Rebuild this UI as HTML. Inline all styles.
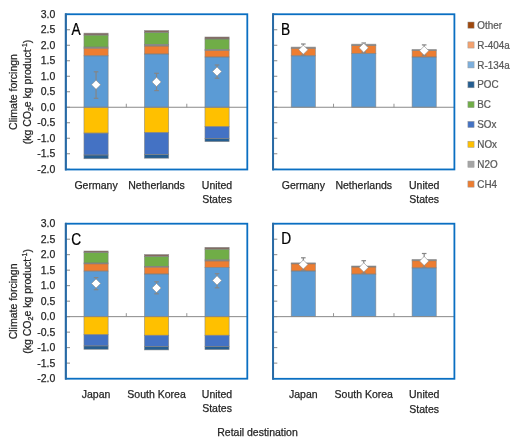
<!DOCTYPE html>
<html><head><meta charset="utf-8"><style>
html,body{margin:0;padding:0;background:#fff;}
body{width:520px;height:445px;overflow:hidden;position:relative;font-family:"Liberation Sans", sans-serif;}
svg text{font-family:"Liberation Sans", sans-serif;stroke-width:0.25px;}
</style></head><body>
<svg width="520" height="445" viewBox="0 0 520 445" style="position:absolute;left:0;top:0;will-change:transform">
<rect width="520" height="445" fill="#fff"/>
<line x1="65.8" y1="14.25" x2="70.00" y2="14.25" stroke="#7a7a7a" stroke-width="0.9"/>
<line x1="65.8" y1="29.75" x2="70.00" y2="29.75" stroke="#7a7a7a" stroke-width="0.9"/>
<line x1="65.8" y1="45.25" x2="70.00" y2="45.25" stroke="#7a7a7a" stroke-width="0.9"/>
<line x1="65.8" y1="60.75" x2="70.00" y2="60.75" stroke="#7a7a7a" stroke-width="0.9"/>
<line x1="65.8" y1="76.25" x2="70.00" y2="76.25" stroke="#7a7a7a" stroke-width="0.9"/>
<line x1="65.8" y1="91.75" x2="70.00" y2="91.75" stroke="#7a7a7a" stroke-width="0.9"/>
<line x1="65.8" y1="107.25" x2="70.00" y2="107.25" stroke="#7a7a7a" stroke-width="0.9"/>
<line x1="65.8" y1="122.75" x2="70.00" y2="122.75" stroke="#7a7a7a" stroke-width="0.9"/>
<line x1="65.8" y1="138.25" x2="70.00" y2="138.25" stroke="#7a7a7a" stroke-width="0.9"/>
<line x1="65.8" y1="153.75" x2="70.00" y2="153.75" stroke="#7a7a7a" stroke-width="0.9"/>
<line x1="65.8" y1="169.25" x2="70.00" y2="169.25" stroke="#7a7a7a" stroke-width="0.9"/>
<rect x="83.95" y="33.20" width="24.20" height="1.90" fill="#85695E"/>
<rect x="83.95" y="35.10" width="24.20" height="12.00" fill="#70AD47"/>
<rect x="83.95" y="47.10" width="24.20" height="1.10" fill="#8E8E8E"/>
<rect x="83.95" y="48.20" width="24.20" height="7.60" fill="#ED7D31"/>
<rect x="83.95" y="55.80" width="24.20" height="51.45" fill="#5B9BD5"/>
<rect x="83.95" y="107.25" width="24.20" height="25.85" fill="#FFC000"/>
<rect x="83.95" y="133.10" width="24.20" height="21.90" fill="#4472C4"/>
<rect x="83.95" y="155.00" width="24.20" height="3.70" fill="#255E91"/>
<rect x="83.95" y="33.20" width="24.20" height="1.90" fill="none" stroke="#7f7f7f" stroke-opacity="0.7" stroke-width="0.75"/>
<rect x="83.95" y="35.10" width="24.20" height="12.00" fill="none" stroke="#7f7f7f" stroke-opacity="0.7" stroke-width="0.75"/>
<rect x="83.95" y="47.10" width="24.20" height="1.10" fill="none" stroke="#7f7f7f" stroke-opacity="0.7" stroke-width="0.75"/>
<rect x="83.95" y="48.20" width="24.20" height="7.60" fill="none" stroke="#7f7f7f" stroke-opacity="0.7" stroke-width="0.75"/>
<rect x="83.95" y="55.80" width="24.20" height="51.45" fill="none" stroke="#7f7f7f" stroke-opacity="0.7" stroke-width="0.75"/>
<rect x="83.95" y="107.25" width="24.20" height="25.85" fill="none" stroke="#7f7f7f" stroke-opacity="0.7" stroke-width="0.75"/>
<rect x="83.95" y="133.10" width="24.20" height="21.90" fill="none" stroke="#7f7f7f" stroke-opacity="0.7" stroke-width="0.75"/>
<rect x="83.95" y="155.00" width="24.20" height="3.70" fill="none" stroke="#7f7f7f" stroke-opacity="0.7" stroke-width="0.75"/>
<rect x="144.45" y="30.60" width="24.20" height="1.90" fill="#85695E"/>
<rect x="144.45" y="32.50" width="24.20" height="12.00" fill="#70AD47"/>
<rect x="144.45" y="44.50" width="24.20" height="1.50" fill="#8E8E8E"/>
<rect x="144.45" y="46.00" width="24.20" height="8.00" fill="#ED7D31"/>
<rect x="144.45" y="54.00" width="24.20" height="53.25" fill="#5B9BD5"/>
<rect x="144.45" y="107.25" width="24.20" height="25.35" fill="#FFC000"/>
<rect x="144.45" y="132.60" width="24.20" height="21.90" fill="#4472C4"/>
<rect x="144.45" y="154.50" width="24.20" height="3.70" fill="#255E91"/>
<rect x="144.45" y="30.60" width="24.20" height="1.90" fill="none" stroke="#7f7f7f" stroke-opacity="0.7" stroke-width="0.75"/>
<rect x="144.45" y="32.50" width="24.20" height="12.00" fill="none" stroke="#7f7f7f" stroke-opacity="0.7" stroke-width="0.75"/>
<rect x="144.45" y="44.50" width="24.20" height="1.50" fill="none" stroke="#7f7f7f" stroke-opacity="0.7" stroke-width="0.75"/>
<rect x="144.45" y="46.00" width="24.20" height="8.00" fill="none" stroke="#7f7f7f" stroke-opacity="0.7" stroke-width="0.75"/>
<rect x="144.45" y="54.00" width="24.20" height="53.25" fill="none" stroke="#7f7f7f" stroke-opacity="0.7" stroke-width="0.75"/>
<rect x="144.45" y="107.25" width="24.20" height="25.35" fill="none" stroke="#7f7f7f" stroke-opacity="0.7" stroke-width="0.75"/>
<rect x="144.45" y="132.60" width="24.20" height="21.90" fill="none" stroke="#7f7f7f" stroke-opacity="0.7" stroke-width="0.75"/>
<rect x="144.45" y="154.50" width="24.20" height="3.70" fill="none" stroke="#7f7f7f" stroke-opacity="0.7" stroke-width="0.75"/>
<rect x="204.95" y="37.00" width="24.20" height="2.00" fill="#85695E"/>
<rect x="204.95" y="39.00" width="24.20" height="10.60" fill="#70AD47"/>
<rect x="204.95" y="49.60" width="24.20" height="0.80" fill="#8E8E8E"/>
<rect x="204.95" y="50.40" width="24.20" height="6.60" fill="#ED7D31"/>
<rect x="204.95" y="57.00" width="24.20" height="50.25" fill="#5B9BD5"/>
<rect x="204.95" y="107.25" width="24.20" height="19.45" fill="#FFC000"/>
<rect x="204.95" y="126.70" width="24.20" height="11.70" fill="#4472C4"/>
<rect x="204.95" y="138.40" width="24.20" height="3.20" fill="#255E91"/>
<rect x="204.95" y="37.00" width="24.20" height="2.00" fill="none" stroke="#7f7f7f" stroke-opacity="0.7" stroke-width="0.75"/>
<rect x="204.95" y="39.00" width="24.20" height="10.60" fill="none" stroke="#7f7f7f" stroke-opacity="0.7" stroke-width="0.75"/>
<rect x="204.95" y="49.60" width="24.20" height="0.80" fill="none" stroke="#7f7f7f" stroke-opacity="0.7" stroke-width="0.75"/>
<rect x="204.95" y="50.40" width="24.20" height="6.60" fill="none" stroke="#7f7f7f" stroke-opacity="0.7" stroke-width="0.75"/>
<rect x="204.95" y="57.00" width="24.20" height="50.25" fill="none" stroke="#7f7f7f" stroke-opacity="0.7" stroke-width="0.75"/>
<rect x="204.95" y="107.25" width="24.20" height="19.45" fill="none" stroke="#7f7f7f" stroke-opacity="0.7" stroke-width="0.75"/>
<rect x="204.95" y="126.70" width="24.20" height="11.70" fill="none" stroke="#7f7f7f" stroke-opacity="0.7" stroke-width="0.75"/>
<rect x="204.95" y="138.40" width="24.20" height="3.20" fill="none" stroke="#7f7f7f" stroke-opacity="0.7" stroke-width="0.75"/>
<line x1="65.8" y1="107.25" x2="247.3" y2="107.25" stroke="#898989" stroke-width="1"/>
<line x1="126.30" y1="103.75" x2="126.30" y2="107.25" stroke="#898989" stroke-width="0.9"/>
<line x1="186.80" y1="103.75" x2="186.80" y2="107.25" stroke="#898989" stroke-width="0.9"/>
<line x1="96.05" y1="71.8" x2="96.05" y2="98.3" stroke="#858585" stroke-width="1.2"/>
<line x1="93.75" y1="71.8" x2="98.35" y2="71.8" stroke="#858585" stroke-width="1.2"/>
<line x1="93.75" y1="98.3" x2="98.35" y2="98.3" stroke="#858585" stroke-width="1.2"/>
<path d="M96.05 80.15 L100.65 84.75 L96.05 89.35 L91.45 84.75 Z" fill="#fff" stroke="#8a8a8a" stroke-width="0.6"/>
<line x1="156.55" y1="73.3" x2="156.55" y2="90.6" stroke="#858585" stroke-width="1.2"/>
<line x1="154.25" y1="73.3" x2="158.85" y2="73.3" stroke="#858585" stroke-width="1.2"/>
<line x1="154.25" y1="90.6" x2="158.85" y2="90.6" stroke="#858585" stroke-width="1.2"/>
<path d="M156.55 77.30 L161.15 81.90 L156.55 86.50 L151.95 81.90 Z" fill="#fff" stroke="#8a8a8a" stroke-width="0.6"/>
<line x1="217.05" y1="65.0" x2="217.05" y2="78.2" stroke="#858585" stroke-width="1.2"/>
<line x1="214.75" y1="65.0" x2="219.35" y2="65.0" stroke="#858585" stroke-width="1.2"/>
<line x1="214.75" y1="78.2" x2="219.35" y2="78.2" stroke="#858585" stroke-width="1.2"/>
<path d="M217.05 66.90 L221.65 71.50 L217.05 76.10 L212.45 71.50 Z" fill="#fff" stroke="#8a8a8a" stroke-width="0.6"/>
<rect x="65.8" y="14.25" width="181.50" height="155.25" fill="none" stroke="#0A6FC2" stroke-width="1.8"/>
<line x1="65.8" y1="13.35" x2="65.8" y2="170.40" stroke="#2A69A2" stroke-width="1.9"/>
<text x="55.3" y="17.95" text-anchor="end" font-size="10.5" fill="#262626" stroke="#262626">3.0</text>
<text x="55.3" y="33.45" text-anchor="end" font-size="10.5" fill="#262626" stroke="#262626">2.5</text>
<text x="55.3" y="48.95" text-anchor="end" font-size="10.5" fill="#262626" stroke="#262626">2.0</text>
<text x="55.3" y="64.45" text-anchor="end" font-size="10.5" fill="#262626" stroke="#262626">1.5</text>
<text x="55.3" y="79.95" text-anchor="end" font-size="10.5" fill="#262626" stroke="#262626">1.0</text>
<text x="55.3" y="95.45" text-anchor="end" font-size="10.5" fill="#262626" stroke="#262626">0.5</text>
<text x="55.3" y="110.95" text-anchor="end" font-size="10.5" fill="#262626" stroke="#262626">0.0</text>
<text x="55.3" y="126.45" text-anchor="end" font-size="10.5" fill="#262626" stroke="#262626">-0.5</text>
<text x="55.3" y="141.95" text-anchor="end" font-size="10.5" fill="#262626" stroke="#262626">-1.0</text>
<text x="55.3" y="157.45" text-anchor="end" font-size="10.5" fill="#262626" stroke="#262626">-1.5</text>
<text x="55.3" y="172.95" text-anchor="end" font-size="10.5" fill="#262626" stroke="#262626">-2.0</text>
<text x="96.05" y="188.75" text-anchor="middle" font-size="10.5" fill="#262626" stroke="#262626">Germany</text>
<text x="156.55" y="188.75" text-anchor="middle" font-size="10.5" fill="#262626" stroke="#262626">Netherlands</text>
<text x="217.05" y="188.75" text-anchor="middle" font-size="10.5" fill="#262626" stroke="#262626">United</text>
<text x="217.05" y="203.25" text-anchor="middle" font-size="10.5" fill="#262626" stroke="#262626">States</text>
<text transform="translate(71.6 35.0) scale(0.88 1)" font-size="15.6" fill="#000" stroke="#000">A</text>
<line x1="273.1" y1="14.25" x2="277.30" y2="14.25" stroke="#7a7a7a" stroke-width="0.9"/>
<line x1="273.1" y1="29.75" x2="277.30" y2="29.75" stroke="#7a7a7a" stroke-width="0.9"/>
<line x1="273.1" y1="45.25" x2="277.30" y2="45.25" stroke="#7a7a7a" stroke-width="0.9"/>
<line x1="273.1" y1="60.75" x2="277.30" y2="60.75" stroke="#7a7a7a" stroke-width="0.9"/>
<line x1="273.1" y1="76.25" x2="277.30" y2="76.25" stroke="#7a7a7a" stroke-width="0.9"/>
<line x1="273.1" y1="91.75" x2="277.30" y2="91.75" stroke="#7a7a7a" stroke-width="0.9"/>
<line x1="273.1" y1="107.25" x2="277.30" y2="107.25" stroke="#7a7a7a" stroke-width="0.9"/>
<line x1="273.1" y1="122.75" x2="277.30" y2="122.75" stroke="#7a7a7a" stroke-width="0.9"/>
<line x1="273.1" y1="138.25" x2="277.30" y2="138.25" stroke="#7a7a7a" stroke-width="0.9"/>
<line x1="273.1" y1="153.75" x2="277.30" y2="153.75" stroke="#7a7a7a" stroke-width="0.9"/>
<line x1="273.1" y1="169.25" x2="277.30" y2="169.25" stroke="#7a7a7a" stroke-width="0.9"/>
<rect x="291.23" y="47.10" width="24.17" height="1.20" fill="#8E8E8E"/>
<rect x="291.23" y="48.30" width="24.17" height="7.50" fill="#ED7D31"/>
<rect x="291.23" y="55.80" width="24.17" height="51.45" fill="#5B9BD5"/>
<rect x="291.23" y="47.10" width="24.17" height="1.20" fill="none" stroke="#7f7f7f" stroke-opacity="0.7" stroke-width="0.75"/>
<rect x="291.23" y="48.30" width="24.17" height="7.50" fill="none" stroke="#7f7f7f" stroke-opacity="0.7" stroke-width="0.75"/>
<rect x="291.23" y="55.80" width="24.17" height="51.45" fill="none" stroke="#7f7f7f" stroke-opacity="0.7" stroke-width="0.75"/>
<rect x="351.66" y="44.20" width="24.17" height="1.40" fill="#8E8E8E"/>
<rect x="351.66" y="45.60" width="24.17" height="8.00" fill="#ED7D31"/>
<rect x="351.66" y="53.60" width="24.17" height="53.65" fill="#5B9BD5"/>
<rect x="351.66" y="44.20" width="24.17" height="1.40" fill="none" stroke="#7f7f7f" stroke-opacity="0.7" stroke-width="0.75"/>
<rect x="351.66" y="45.60" width="24.17" height="8.00" fill="none" stroke="#7f7f7f" stroke-opacity="0.7" stroke-width="0.75"/>
<rect x="351.66" y="53.60" width="24.17" height="53.65" fill="none" stroke="#7f7f7f" stroke-opacity="0.7" stroke-width="0.75"/>
<rect x="412.10" y="49.50" width="24.17" height="1.00" fill="#8E8E8E"/>
<rect x="412.10" y="50.50" width="24.17" height="6.50" fill="#ED7D31"/>
<rect x="412.10" y="57.00" width="24.17" height="50.25" fill="#5B9BD5"/>
<rect x="412.10" y="49.50" width="24.17" height="1.00" fill="none" stroke="#7f7f7f" stroke-opacity="0.7" stroke-width="0.75"/>
<rect x="412.10" y="50.50" width="24.17" height="6.50" fill="none" stroke="#7f7f7f" stroke-opacity="0.7" stroke-width="0.75"/>
<rect x="412.10" y="57.00" width="24.17" height="50.25" fill="none" stroke="#7f7f7f" stroke-opacity="0.7" stroke-width="0.75"/>
<line x1="273.1" y1="107.25" x2="454.4" y2="107.25" stroke="#898989" stroke-width="1"/>
<line x1="333.53" y1="103.75" x2="333.53" y2="107.25" stroke="#898989" stroke-width="0.9"/>
<line x1="393.97" y1="103.75" x2="393.97" y2="107.25" stroke="#898989" stroke-width="0.9"/>
<line x1="303.32" y1="44.0" x2="303.32" y2="55.2" stroke="#858585" stroke-width="1.2"/>
<line x1="301.02" y1="44.0" x2="305.62" y2="44.0" stroke="#858585" stroke-width="1.2"/>
<line x1="301.02" y1="55.2" x2="305.62" y2="55.2" stroke="#858585" stroke-width="1.2"/>
<path d="M303.32 45.10 L307.92 49.70 L303.32 54.30 L298.72 49.70 Z" fill="#fff" stroke="#8a8a8a" stroke-width="0.6"/>
<line x1="363.75" y1="43.0" x2="363.75" y2="52.3" stroke="#858585" stroke-width="1.2"/>
<line x1="361.45" y1="43.0" x2="366.05" y2="43.0" stroke="#858585" stroke-width="1.2"/>
<line x1="361.45" y1="52.3" x2="366.05" y2="52.3" stroke="#858585" stroke-width="1.2"/>
<path d="M363.75 43.20 L368.35 47.80 L363.75 52.40 L359.15 47.80 Z" fill="#fff" stroke="#8a8a8a" stroke-width="0.6"/>
<line x1="424.18" y1="44.9" x2="424.18" y2="55.2" stroke="#858585" stroke-width="1.2"/>
<line x1="421.88" y1="44.9" x2="426.48" y2="44.9" stroke="#858585" stroke-width="1.2"/>
<line x1="421.88" y1="55.2" x2="426.48" y2="55.2" stroke="#858585" stroke-width="1.2"/>
<path d="M424.18 46.10 L428.78 50.70 L424.18 55.30 L419.58 50.70 Z" fill="#fff" stroke="#8a8a8a" stroke-width="0.6"/>
<rect x="273.1" y="14.25" width="181.30" height="155.20" fill="none" stroke="#0A6FC2" stroke-width="1.8"/>
<line x1="273.1" y1="13.35" x2="273.1" y2="170.35" stroke="#2A69A2" stroke-width="1.9"/>
<text x="303.32" y="188.70" text-anchor="middle" font-size="10.5" fill="#262626" stroke="#262626">Germany</text>
<text x="363.75" y="188.70" text-anchor="middle" font-size="10.5" fill="#262626" stroke="#262626">Netherlands</text>
<text x="424.18" y="188.70" text-anchor="middle" font-size="10.5" fill="#262626" stroke="#262626">United</text>
<text x="424.18" y="203.20" text-anchor="middle" font-size="10.5" fill="#262626" stroke="#262626">States</text>
<text transform="translate(281.1 34.8) scale(0.88 1)" font-size="15.6" fill="#000" stroke="#000">B</text>
<line x1="65.8" y1="223.70" x2="70.00" y2="223.70" stroke="#7a7a7a" stroke-width="0.9"/>
<line x1="65.8" y1="239.19" x2="70.00" y2="239.19" stroke="#7a7a7a" stroke-width="0.9"/>
<line x1="65.8" y1="254.68" x2="70.00" y2="254.68" stroke="#7a7a7a" stroke-width="0.9"/>
<line x1="65.8" y1="270.17" x2="70.00" y2="270.17" stroke="#7a7a7a" stroke-width="0.9"/>
<line x1="65.8" y1="285.67" x2="70.00" y2="285.67" stroke="#7a7a7a" stroke-width="0.9"/>
<line x1="65.8" y1="301.16" x2="70.00" y2="301.16" stroke="#7a7a7a" stroke-width="0.9"/>
<line x1="65.8" y1="316.65" x2="70.00" y2="316.65" stroke="#7a7a7a" stroke-width="0.9"/>
<line x1="65.8" y1="332.14" x2="70.00" y2="332.14" stroke="#7a7a7a" stroke-width="0.9"/>
<line x1="65.8" y1="347.63" x2="70.00" y2="347.63" stroke="#7a7a7a" stroke-width="0.9"/>
<line x1="65.8" y1="363.12" x2="70.00" y2="363.12" stroke="#7a7a7a" stroke-width="0.9"/>
<line x1="65.8" y1="378.62" x2="70.00" y2="378.62" stroke="#7a7a7a" stroke-width="0.9"/>
<rect x="83.95" y="251.00" width="24.20" height="1.60" fill="#85695E"/>
<rect x="83.95" y="252.60" width="24.20" height="10.40" fill="#70AD47"/>
<rect x="83.95" y="263.00" width="24.20" height="0.80" fill="#8E8E8E"/>
<rect x="83.95" y="263.80" width="24.20" height="7.30" fill="#ED7D31"/>
<rect x="83.95" y="271.10" width="24.20" height="45.55" fill="#5B9BD5"/>
<rect x="83.95" y="316.65" width="24.20" height="18.05" fill="#FFC000"/>
<rect x="83.95" y="334.70" width="24.20" height="11.20" fill="#4472C4"/>
<rect x="83.95" y="345.90" width="24.20" height="3.40" fill="#255E91"/>
<rect x="83.95" y="251.00" width="24.20" height="1.60" fill="none" stroke="#7f7f7f" stroke-opacity="0.7" stroke-width="0.75"/>
<rect x="83.95" y="252.60" width="24.20" height="10.40" fill="none" stroke="#7f7f7f" stroke-opacity="0.7" stroke-width="0.75"/>
<rect x="83.95" y="263.00" width="24.20" height="0.80" fill="none" stroke="#7f7f7f" stroke-opacity="0.7" stroke-width="0.75"/>
<rect x="83.95" y="263.80" width="24.20" height="7.30" fill="none" stroke="#7f7f7f" stroke-opacity="0.7" stroke-width="0.75"/>
<rect x="83.95" y="271.10" width="24.20" height="45.55" fill="none" stroke="#7f7f7f" stroke-opacity="0.7" stroke-width="0.75"/>
<rect x="83.95" y="316.65" width="24.20" height="18.05" fill="none" stroke="#7f7f7f" stroke-opacity="0.7" stroke-width="0.75"/>
<rect x="83.95" y="334.70" width="24.20" height="11.20" fill="none" stroke="#7f7f7f" stroke-opacity="0.7" stroke-width="0.75"/>
<rect x="83.95" y="345.90" width="24.20" height="3.40" fill="none" stroke="#7f7f7f" stroke-opacity="0.7" stroke-width="0.75"/>
<rect x="144.45" y="254.60" width="24.20" height="1.80" fill="#85695E"/>
<rect x="144.45" y="256.40" width="24.20" height="10.00" fill="#70AD47"/>
<rect x="144.45" y="266.40" width="24.20" height="0.70" fill="#8E8E8E"/>
<rect x="144.45" y="267.10" width="24.20" height="6.90" fill="#ED7D31"/>
<rect x="144.45" y="274.00" width="24.20" height="42.65" fill="#5B9BD5"/>
<rect x="144.45" y="316.65" width="24.20" height="18.65" fill="#FFC000"/>
<rect x="144.45" y="335.30" width="24.20" height="11.20" fill="#4472C4"/>
<rect x="144.45" y="346.50" width="24.20" height="3.40" fill="#255E91"/>
<rect x="144.45" y="254.60" width="24.20" height="1.80" fill="none" stroke="#7f7f7f" stroke-opacity="0.7" stroke-width="0.75"/>
<rect x="144.45" y="256.40" width="24.20" height="10.00" fill="none" stroke="#7f7f7f" stroke-opacity="0.7" stroke-width="0.75"/>
<rect x="144.45" y="266.40" width="24.20" height="0.70" fill="none" stroke="#7f7f7f" stroke-opacity="0.7" stroke-width="0.75"/>
<rect x="144.45" y="267.10" width="24.20" height="6.90" fill="none" stroke="#7f7f7f" stroke-opacity="0.7" stroke-width="0.75"/>
<rect x="144.45" y="274.00" width="24.20" height="42.65" fill="none" stroke="#7f7f7f" stroke-opacity="0.7" stroke-width="0.75"/>
<rect x="144.45" y="316.65" width="24.20" height="18.65" fill="none" stroke="#7f7f7f" stroke-opacity="0.7" stroke-width="0.75"/>
<rect x="144.45" y="335.30" width="24.20" height="11.20" fill="none" stroke="#7f7f7f" stroke-opacity="0.7" stroke-width="0.75"/>
<rect x="144.45" y="346.50" width="24.20" height="3.40" fill="none" stroke="#7f7f7f" stroke-opacity="0.7" stroke-width="0.75"/>
<rect x="204.95" y="247.40" width="24.20" height="1.80" fill="#85695E"/>
<rect x="204.95" y="249.20" width="24.20" height="10.70" fill="#70AD47"/>
<rect x="204.95" y="259.90" width="24.20" height="1.00" fill="#8E8E8E"/>
<rect x="204.95" y="260.90" width="24.20" height="6.50" fill="#ED7D31"/>
<rect x="204.95" y="267.40" width="24.20" height="49.25" fill="#5B9BD5"/>
<rect x="204.95" y="316.65" width="24.20" height="18.65" fill="#FFC000"/>
<rect x="204.95" y="335.30" width="24.20" height="11.10" fill="#4472C4"/>
<rect x="204.95" y="346.40" width="24.20" height="3.20" fill="#255E91"/>
<rect x="204.95" y="247.40" width="24.20" height="1.80" fill="none" stroke="#7f7f7f" stroke-opacity="0.7" stroke-width="0.75"/>
<rect x="204.95" y="249.20" width="24.20" height="10.70" fill="none" stroke="#7f7f7f" stroke-opacity="0.7" stroke-width="0.75"/>
<rect x="204.95" y="259.90" width="24.20" height="1.00" fill="none" stroke="#7f7f7f" stroke-opacity="0.7" stroke-width="0.75"/>
<rect x="204.95" y="260.90" width="24.20" height="6.50" fill="none" stroke="#7f7f7f" stroke-opacity="0.7" stroke-width="0.75"/>
<rect x="204.95" y="267.40" width="24.20" height="49.25" fill="none" stroke="#7f7f7f" stroke-opacity="0.7" stroke-width="0.75"/>
<rect x="204.95" y="316.65" width="24.20" height="18.65" fill="none" stroke="#7f7f7f" stroke-opacity="0.7" stroke-width="0.75"/>
<rect x="204.95" y="335.30" width="24.20" height="11.10" fill="none" stroke="#7f7f7f" stroke-opacity="0.7" stroke-width="0.75"/>
<rect x="204.95" y="346.40" width="24.20" height="3.20" fill="none" stroke="#7f7f7f" stroke-opacity="0.7" stroke-width="0.75"/>
<line x1="65.8" y1="316.65" x2="247.3" y2="316.65" stroke="#898989" stroke-width="1"/>
<line x1="126.30" y1="313.15" x2="126.30" y2="316.65" stroke="#898989" stroke-width="0.9"/>
<line x1="186.80" y1="313.15" x2="186.80" y2="316.65" stroke="#898989" stroke-width="0.9"/>
<line x1="96.05" y1="277.6" x2="96.05" y2="289.7" stroke="#858585" stroke-width="1.2"/>
<line x1="93.75" y1="277.6" x2="98.35" y2="277.6" stroke="#858585" stroke-width="1.2"/>
<line x1="93.75" y1="289.7" x2="98.35" y2="289.7" stroke="#858585" stroke-width="1.2"/>
<path d="M96.05 278.90 L100.65 283.50 L96.05 288.10 L91.45 283.50 Z" fill="#fff" stroke="#8a8a8a" stroke-width="0.6"/>
<line x1="156.55" y1="281.8" x2="156.55" y2="293.8" stroke="#858585" stroke-width="1.2"/>
<line x1="154.25" y1="281.8" x2="158.85" y2="281.8" stroke="#858585" stroke-width="1.2"/>
<line x1="154.25" y1="293.8" x2="158.85" y2="293.8" stroke="#858585" stroke-width="1.2"/>
<path d="M156.55 283.40 L161.15 288.00 L156.55 292.60 L151.95 288.00 Z" fill="#fff" stroke="#8a8a8a" stroke-width="0.6"/>
<line x1="217.05" y1="273.7" x2="217.05" y2="287.8" stroke="#858585" stroke-width="1.2"/>
<line x1="214.75" y1="273.7" x2="219.35" y2="273.7" stroke="#858585" stroke-width="1.2"/>
<line x1="214.75" y1="287.8" x2="219.35" y2="287.8" stroke="#858585" stroke-width="1.2"/>
<path d="M217.05 275.80 L221.65 280.40 L217.05 285.00 L212.45 280.40 Z" fill="#fff" stroke="#8a8a8a" stroke-width="0.6"/>
<rect x="65.8" y="223.7" width="181.50" height="155.00" fill="none" stroke="#0A6FC2" stroke-width="1.8"/>
<line x1="65.8" y1="222.80" x2="65.8" y2="379.60" stroke="#2A69A2" stroke-width="1.9"/>
<text x="55.3" y="227.40" text-anchor="end" font-size="10.5" fill="#262626" stroke="#262626">3.0</text>
<text x="55.3" y="242.89" text-anchor="end" font-size="10.5" fill="#262626" stroke="#262626">2.5</text>
<text x="55.3" y="258.38" text-anchor="end" font-size="10.5" fill="#262626" stroke="#262626">2.0</text>
<text x="55.3" y="273.87" text-anchor="end" font-size="10.5" fill="#262626" stroke="#262626">1.5</text>
<text x="55.3" y="289.37" text-anchor="end" font-size="10.5" fill="#262626" stroke="#262626">1.0</text>
<text x="55.3" y="304.86" text-anchor="end" font-size="10.5" fill="#262626" stroke="#262626">0.5</text>
<text x="55.3" y="320.35" text-anchor="end" font-size="10.5" fill="#262626" stroke="#262626">0.0</text>
<text x="55.3" y="335.84" text-anchor="end" font-size="10.5" fill="#262626" stroke="#262626">-0.5</text>
<text x="55.3" y="351.33" text-anchor="end" font-size="10.5" fill="#262626" stroke="#262626">-1.0</text>
<text x="55.3" y="366.82" text-anchor="end" font-size="10.5" fill="#262626" stroke="#262626">-1.5</text>
<text x="55.3" y="382.32" text-anchor="end" font-size="10.5" fill="#262626" stroke="#262626">-2.0</text>
<text x="96.05" y="397.95" text-anchor="middle" font-size="10.5" fill="#262626" stroke="#262626">Japan</text>
<text x="156.55" y="397.95" text-anchor="middle" font-size="10.5" fill="#262626" stroke="#262626">South Korea</text>
<text x="217.05" y="397.95" text-anchor="middle" font-size="10.5" fill="#262626" stroke="#262626">United</text>
<text x="217.05" y="412.45" text-anchor="middle" font-size="10.5" fill="#262626" stroke="#262626">States</text>
<text transform="translate(71.2 244.5) scale(0.88 1)" font-size="15.6" fill="#000" stroke="#000">C</text>
<line x1="273.1" y1="223.70" x2="277.30" y2="223.70" stroke="#7a7a7a" stroke-width="0.9"/>
<line x1="273.1" y1="239.19" x2="277.30" y2="239.19" stroke="#7a7a7a" stroke-width="0.9"/>
<line x1="273.1" y1="254.68" x2="277.30" y2="254.68" stroke="#7a7a7a" stroke-width="0.9"/>
<line x1="273.1" y1="270.17" x2="277.30" y2="270.17" stroke="#7a7a7a" stroke-width="0.9"/>
<line x1="273.1" y1="285.67" x2="277.30" y2="285.67" stroke="#7a7a7a" stroke-width="0.9"/>
<line x1="273.1" y1="301.16" x2="277.30" y2="301.16" stroke="#7a7a7a" stroke-width="0.9"/>
<line x1="273.1" y1="316.65" x2="277.30" y2="316.65" stroke="#7a7a7a" stroke-width="0.9"/>
<line x1="273.1" y1="332.14" x2="277.30" y2="332.14" stroke="#7a7a7a" stroke-width="0.9"/>
<line x1="273.1" y1="347.63" x2="277.30" y2="347.63" stroke="#7a7a7a" stroke-width="0.9"/>
<line x1="273.1" y1="363.12" x2="277.30" y2="363.12" stroke="#7a7a7a" stroke-width="0.9"/>
<line x1="273.1" y1="378.62" x2="277.30" y2="378.62" stroke="#7a7a7a" stroke-width="0.9"/>
<rect x="291.23" y="262.90" width="24.17" height="0.90" fill="#8E8E8E"/>
<rect x="291.23" y="263.80" width="24.17" height="7.20" fill="#ED7D31"/>
<rect x="291.23" y="271.00" width="24.17" height="45.65" fill="#5B9BD5"/>
<rect x="291.23" y="262.90" width="24.17" height="0.90" fill="none" stroke="#7f7f7f" stroke-opacity="0.7" stroke-width="0.75"/>
<rect x="291.23" y="263.80" width="24.17" height="7.20" fill="none" stroke="#7f7f7f" stroke-opacity="0.7" stroke-width="0.75"/>
<rect x="291.23" y="271.00" width="24.17" height="45.65" fill="none" stroke="#7f7f7f" stroke-opacity="0.7" stroke-width="0.75"/>
<rect x="351.66" y="266.00" width="24.17" height="1.00" fill="#8E8E8E"/>
<rect x="351.66" y="267.00" width="24.17" height="7.10" fill="#ED7D31"/>
<rect x="351.66" y="274.10" width="24.17" height="42.55" fill="#5B9BD5"/>
<rect x="351.66" y="266.00" width="24.17" height="1.00" fill="none" stroke="#7f7f7f" stroke-opacity="0.7" stroke-width="0.75"/>
<rect x="351.66" y="267.00" width="24.17" height="7.10" fill="none" stroke="#7f7f7f" stroke-opacity="0.7" stroke-width="0.75"/>
<rect x="351.66" y="274.10" width="24.17" height="42.55" fill="none" stroke="#7f7f7f" stroke-opacity="0.7" stroke-width="0.75"/>
<rect x="412.10" y="259.50" width="24.17" height="1.20" fill="#8E8E8E"/>
<rect x="412.10" y="260.70" width="24.17" height="7.20" fill="#ED7D31"/>
<rect x="412.10" y="267.90" width="24.17" height="48.75" fill="#5B9BD5"/>
<rect x="412.10" y="259.50" width="24.17" height="1.20" fill="none" stroke="#7f7f7f" stroke-opacity="0.7" stroke-width="0.75"/>
<rect x="412.10" y="260.70" width="24.17" height="7.20" fill="none" stroke="#7f7f7f" stroke-opacity="0.7" stroke-width="0.75"/>
<rect x="412.10" y="267.90" width="24.17" height="48.75" fill="none" stroke="#7f7f7f" stroke-opacity="0.7" stroke-width="0.75"/>
<line x1="273.1" y1="316.65" x2="454.4" y2="316.65" stroke="#898989" stroke-width="1"/>
<line x1="333.53" y1="313.15" x2="333.53" y2="316.65" stroke="#898989" stroke-width="0.9"/>
<line x1="393.97" y1="313.15" x2="393.97" y2="316.65" stroke="#898989" stroke-width="0.9"/>
<line x1="303.32" y1="257.8" x2="303.32" y2="270.3" stroke="#858585" stroke-width="1.2"/>
<line x1="301.02" y1="257.8" x2="305.62" y2="257.8" stroke="#858585" stroke-width="1.2"/>
<line x1="301.02" y1="270.3" x2="305.62" y2="270.3" stroke="#858585" stroke-width="1.2"/>
<path d="M303.32 259.90 L307.92 264.50 L303.32 269.10 L298.72 264.50 Z" fill="#fff" stroke="#8a8a8a" stroke-width="0.6"/>
<line x1="363.75" y1="260.7" x2="363.75" y2="273.2" stroke="#858585" stroke-width="1.2"/>
<line x1="361.45" y1="260.7" x2="366.05" y2="260.7" stroke="#858585" stroke-width="1.2"/>
<line x1="361.45" y1="273.2" x2="366.05" y2="273.2" stroke="#858585" stroke-width="1.2"/>
<path d="M363.75 262.80 L368.35 267.40 L363.75 272.00 L359.15 267.40 Z" fill="#fff" stroke="#8a8a8a" stroke-width="0.6"/>
<line x1="424.18" y1="253.5" x2="424.18" y2="267.4" stroke="#858585" stroke-width="1.2"/>
<line x1="421.88" y1="253.5" x2="426.48" y2="253.5" stroke="#858585" stroke-width="1.2"/>
<line x1="421.88" y1="267.4" x2="426.48" y2="267.4" stroke="#858585" stroke-width="1.2"/>
<path d="M424.18 256.40 L428.78 261.00 L424.18 265.60 L419.58 261.00 Z" fill="#fff" stroke="#8a8a8a" stroke-width="0.6"/>
<rect x="273.1" y="223.7" width="181.30" height="155.10" fill="none" stroke="#0A6FC2" stroke-width="1.8"/>
<line x1="273.1" y1="222.80" x2="273.1" y2="379.70" stroke="#2A69A2" stroke-width="1.9"/>
<text x="303.32" y="398.05" text-anchor="middle" font-size="10.5" fill="#262626" stroke="#262626">Japan</text>
<text x="363.75" y="398.05" text-anchor="middle" font-size="10.5" fill="#262626" stroke="#262626">South Korea</text>
<text x="424.18" y="398.05" text-anchor="middle" font-size="10.5" fill="#262626" stroke="#262626">United</text>
<text x="424.18" y="412.55" text-anchor="middle" font-size="10.5" fill="#262626" stroke="#262626">States</text>
<text transform="translate(281.2 244.0) scale(0.88 1)" font-size="15.6" fill="#000" stroke="#000">D</text>
<text transform="translate(17.2 92.00) rotate(-90)" text-anchor="middle" font-size="10.5" fill="#262626" stroke="#262626">Climate forcingn</text>
<text transform="translate(30.6 92.00) rotate(-90)" text-anchor="middle" font-size="10.5" fill="#262626" stroke="#262626">(kg CO<tspan font-size="7" dy="2">2</tspan><tspan dy="-2">e kg product</tspan><tspan font-size="7" dy="-3.5">-1</tspan><tspan dy="3.5">)</tspan></text>
<text transform="translate(17.2 301.40) rotate(-90)" text-anchor="middle" font-size="10.5" fill="#262626" stroke="#262626">Climate forcingn</text>
<text transform="translate(30.6 301.40) rotate(-90)" text-anchor="middle" font-size="10.5" fill="#262626" stroke="#262626">(kg CO<tspan font-size="7" dy="2">2</tspan><tspan dy="-2">e kg product</tspan><tspan font-size="7" dy="-3.5">-1</tspan><tspan dy="3.5">)</tspan></text>
<rect x="467.9" y="22.00" width="6.2" height="6.2" fill="#9E480E" stroke="#9a9a9a" stroke-width="0.5"/>
<text transform="translate(477.3 28.80) scale(0.94 1)" font-size="10.5" fill="#595959" stroke="#595959">Other</text>
<rect x="467.9" y="41.87" width="6.2" height="6.2" fill="#F4A26E" stroke="#9a9a9a" stroke-width="0.5"/>
<text transform="translate(477.3 48.67) scale(0.94 1)" font-size="10.5" fill="#595959" stroke="#595959">R-404a</text>
<rect x="467.9" y="61.74" width="6.2" height="6.2" fill="#7CAFDD" stroke="#9a9a9a" stroke-width="0.5"/>
<text transform="translate(477.3 68.54) scale(0.94 1)" font-size="10.5" fill="#595959" stroke="#595959">R-134a</text>
<rect x="467.9" y="81.61" width="6.2" height="6.2" fill="#255E91" stroke="#9a9a9a" stroke-width="0.5"/>
<text transform="translate(477.3 88.41) scale(0.94 1)" font-size="10.5" fill="#595959" stroke="#595959">POC</text>
<rect x="467.9" y="101.48" width="6.2" height="6.2" fill="#70AD47" stroke="#9a9a9a" stroke-width="0.5"/>
<text transform="translate(477.3 108.28) scale(0.94 1)" font-size="10.5" fill="#595959" stroke="#595959">BC</text>
<rect x="467.9" y="121.35" width="6.2" height="6.2" fill="#4472C4" stroke="#9a9a9a" stroke-width="0.5"/>
<text transform="translate(477.3 128.15) scale(0.94 1)" font-size="10.5" fill="#595959" stroke="#595959">SOx</text>
<rect x="467.9" y="141.22" width="6.2" height="6.2" fill="#FFC000" stroke="#9a9a9a" stroke-width="0.5"/>
<text transform="translate(477.3 148.02) scale(0.94 1)" font-size="10.5" fill="#595959" stroke="#595959">NOx</text>
<rect x="467.9" y="161.09" width="6.2" height="6.2" fill="#A5A5A5" stroke="#9a9a9a" stroke-width="0.5"/>
<text transform="translate(477.3 167.89) scale(0.94 1)" font-size="10.5" fill="#595959" stroke="#595959">N2O</text>
<rect x="467.9" y="180.96" width="6.2" height="6.2" fill="#ED7D31" stroke="#9a9a9a" stroke-width="0.5"/>
<text transform="translate(477.3 187.76) scale(0.94 1)" font-size="10.5" fill="#595959" stroke="#595959">CH4</text>
<text x="257.5" y="436.3" text-anchor="middle" font-size="10.5" fill="#262626" stroke="#262626">Retail destination</text>
</svg>
</body></html>
